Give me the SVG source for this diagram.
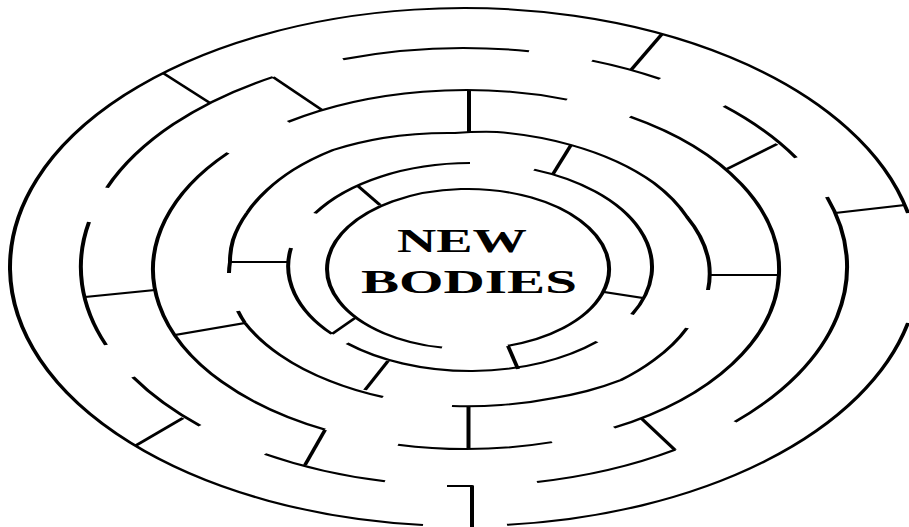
<svg xmlns="http://www.w3.org/2000/svg" width="909" height="527" viewBox="0 0 909 527">
<style>
.w{fill:none;stroke:#000;stroke-width:2;stroke-linejoin:round}
.t{font-family:"Liberation Serif","Times New Roman",serif;font-weight:bold;font-size:33px;fill:#000}
</style>
<rect width="909" height="527" fill="#fff"/>
<g id="maze" transform="scale(2 1)" class="w">
  <g id="rings">
    <path id="ringA1" d="M211.5,525 A227 259 0 1 1 454,213"/>
    <path id="ringA2" d="M454,323 A227 259 0 0 1 253.5,524.8"/>
    <path d="M53.5,187.7 A191.5 219 0 0 1 136.5,77"/>
    <path d="M171.5,59.2 A191.5 219 0 0 1 264.5,51.2"/>
    <path d="M296,60.6 A191.5 219 0 0 1 330,78.9"/>
    <path d="M362,106 A191.5 219 0 0 1 398,157.8"/>
    <path d="M413.5,197 A191.5 219 0 0 1 367.5,421.8"/>
    <path d="M337.5,449.8 A191.5 219 0 0 1 268.5,482"/>
    <path d="M192.5,481.3 A191.5 219 0 0 1 132.5,454"/>
    <path d="M100,425.7 A191.5 219 0 0 1 66.5,377"/>
    <path d="M53,345 A191.5 219 0 0 1 44.5,222"/>
    <path d="M144,121.9 A156.5 179.5 0 0 1 283.5,99.6"/>
    <path d="M315,116.6 A156.5 179.5 0 0 1 307,427.7"/>
    <path d="M276,442.1 A156.5 179.5 0 0 1 199,444.7"/>
    <path d="M162.5,429.7 A156.5 179.5 0 0 1 114,152.9"/>
    <path d="M114.5,273 A121.5 137 0 0 1 115,262 A121.5 137 0 0 1 116.5,240 A121.5 137 0 0 1 123.5,213 A121.5 137 0 0 1 133.5,190 A121.5 137 0 0 1 146.5,170 A121.5 137 0 0 1 166.5,150 A121.5 137 0 0 1 191.5,138 A121.5 137 0 0 1 227.5,133 A121.5 137 0 0 1 248.5,132 A121.5 137 0 0 1 285.5,145 A121.5 137 0 0 1 327,183 A121.5 137 0 0 1 343.5,217 A121.5 137 0 0 1 354.5,263 A121.5 137 0 0 1 354,290"/>
    <path d="M191.5,397 A121.5 137 0 0 1 165,381 A121.5 137 0 0 1 140,355 A121.5 137 0 0 1 122.5,323 A121.5 137 0 0 1 119,311"/>
    <path d="M343.5,328 A121.5 137 0 0 1 327,360 A121.5 137 0 0 1 310.5,380 A121.5 137 0 0 1 293.5,391 A121.5 137 0 0 1 277,398 A121.5 137 0 0 1 250.5,405 A121.5 137 0 0 1 226,406"/>
    <path d="M157.5,213.4 A90.75 104 0 0 1 235,163"/>
    <path d="M267,169.6 A90.75 104 0 0 1 316,314.5"/>
    <path d="M166,334 A90.75 104 0 0 1 145.5,248"/>
    <path d="M298.5,341.6 A90.75 104 0 0 1 173.5,343.2"/>
    <path id="ringF" d="M221,347.6 A70.5 80 0 1 1 254,345.7"/>
  </g>
  <g id="walls">
    <path d="M81.5,73 L105,103"/>
    <path d="M136.5,77 L161,110"/>
    <path d="M331,34 L315.5,70"/>
    <path d="M388.5,144 L363.5,169"/>
    <path d="M452.5,205 L417.5,213"/>
    <path d="M42.5,297 L77.5,290"/>
    <path d="M87.5,335 L122.5,323"/>
    <path d="M67.5,446 L91.5,418"/>
    <path d="M152.5,465 L162.5,430"/>
    <path d="M337.5,450 L320.5,418"/>
    <path d="M234.5,90 L234.5,133"/>
    <path d="M234.25,406 L234.25,449"/>
    <path d="M355,275 L389.5,275"/>
    <path d="M115,262 L145,262"/>
    <path d="M285.5,145 L276.5,174"/>
    <path d="M179,186 L190,205"/>
    <path d="M166,334 L177.5,318"/>
    <path d="M194,361 L182.5,390"/>
    <path d="M254,346 L259,369"/>
    <path d="M302,292 L321.5,298"/>
    <path id="entrance" d="M223.5,486 L236,486 L236,527"/>
  </g>
</g>
<g id="label">
  <text class="t" x="397" y="252" textLength="130" lengthAdjust="spacingAndGlyphs">NEW</text>
  <text class="t" x="361" y="293" textLength="216" lengthAdjust="spacingAndGlyphs">BODIES</text>
</g>
</svg>
